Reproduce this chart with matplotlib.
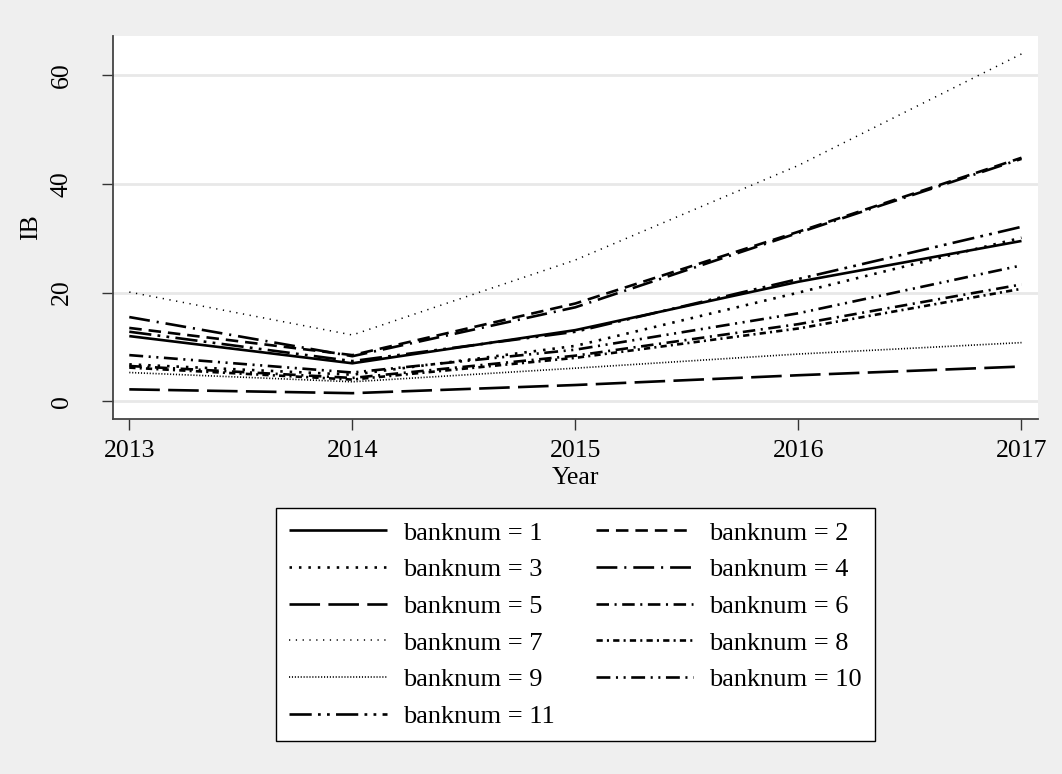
import matplotlib
matplotlib.use("Agg")
import matplotlib.pyplot as plt

plt.rcParams["font.family"] = ["Liberation Serif", "DejaVu Serif"]
plt.rcParams["lines.scale_dashes"] = False

years = [2013, 2014, 2015, 2016, 2017]

ib_bank1 = [12.0, 7.0, 13.1, 22.0, 29.5]
ib_bank2 = [13.5, 8.5, 18.0, 31.2, 44.8]
ib_bank3 = [6.8, 4.9, 10.2, 20.0, 30.1]
ib_bank4 = [15.5, 8.3, 17.3, 31.0, 44.6]
ib_bank5 = [2.2, 1.5, 3.0, 4.8, 6.4]
ib_bank6 = [6.5, 4.3, 8.4, 14.2, 21.5]
ib_bank7 = [20.1, 12.2, 26.0, 43.4, 63.9]
ib_bank8 = [6.2, 4.0, 8.0, 13.4, 20.7]
ib_bank9 = [5.3, 3.6, 6.1, 8.7, 10.8]
ib_bank10 = [8.5, 5.3, 9.5, 16.2, 25.0]
ib_bank11 = [12.8, 7.4, 12.8, 22.5, 32.1]

bank_ids = [1, 2, 3, 4, 5, 6, 7, 8, 9, 10, 11]
series = [ib_bank1, ib_bank2, ib_bank3, ib_bank4, ib_bank5, ib_bank6,
          ib_bank7, ib_bank8, ib_bank9, ib_bank10, ib_bank11]

# Monochrome line patterns (in points)
patterns = {
    1: ("-", 1.9),
    2: ((0, (9, 5)), 1.9),
    3: ((0, (1.8, 5)), 1.9),
    4: ((0, (15, 5, 1.5, 5)), 1.9),
    5: ((0, (22, 6)), 1.9),
    6: ((0, (9, 4, 1.5, 4)), 1.9),
    7: ((0, (0.9, 4.0)), 1.1),
    8: ((0, (4.5, 3, 1.5, 3)), 1.9),
    9: ((0, (0.8, 1.3)), 1.2),
    10: ((0, (10, 4, 1.5, 4, 1.5, 4)), 1.9),
    11: ((0, (16, 4.5, 2, 4.5, 2, 4.5)), 1.9),
}

fig = plt.figure(figsize=(10.62, 7.74), dpi=100, facecolor="#efefef")
ax = fig.add_axes([113 / 1062, 1 - 419 / 774, (1038 - 113) / 1062, (419 - 36) / 774])
ax.set_facecolor("white")

handles = {}
for bid, vals in zip(bank_ids, series):
    ls, lw = patterns[bid]
    (ln,) = ax.plot(years, vals, color="black", linestyle=ls, linewidth=lw,
                    label=f"banknum = {bid}", solid_capstyle="butt",
                    dash_capstyle="butt", zorder=3)
    handles[bid] = ln

ax.set_xlim(2012.927, 2017.074)
ax.set_ylim(-3.25, 67.2)
ax.set_xticks(years)
ax.set_yticks([0, 20, 40, 60])
ax.yaxis.grid(True, color="#e8e8e8", linewidth=2.0, zorder=0)
ax.set_axisbelow(True)

for side in ("top", "right"):
    ax.spines[side].set_visible(False)
for side in ("left", "bottom"):
    ax.spines[side].set_color("#444444")
    ax.spines[side].set_linewidth(1.3)

ax.tick_params(axis="both", labelsize=18.5, length=8, width=1.0, color="#333333")
ax.tick_params(axis="x", pad=7)
ax.tick_params(axis="y", pad=21)
for lbl in ax.get_yticklabels():
    lbl.set_rotation(90)
    lbl.set_va("center")

ax.set_xlabel("Year", fontsize=18.5, labelpad=4)
ax.set_ylabel("IB", fontsize=18.5, labelpad=6)

order = [1, 3, 5, 7, 9, 11, 2, 4, 6, 8, 10]
leg = fig.legend([handles[i] for i in order], [handles[i].get_label() for i in order],
                 ncol=2, loc="upper center", bbox_to_anchor=(575.5 / 1062, 1 - 508 / 774),
                 bbox_transform=fig.transFigure, fontsize=19, frameon=True,
                 fancybox=False, edgecolor="black", framealpha=1.0,
                 handlelength=3.7, handletextpad=0.6, columnspacing=1.55,
                 labelspacing=0.5, borderpad=0.5, borderaxespad=0)
leg.get_frame().set_linewidth(1.0)

fig.savefig("out.png", dpi=100, facecolor=fig.get_facecolor())
